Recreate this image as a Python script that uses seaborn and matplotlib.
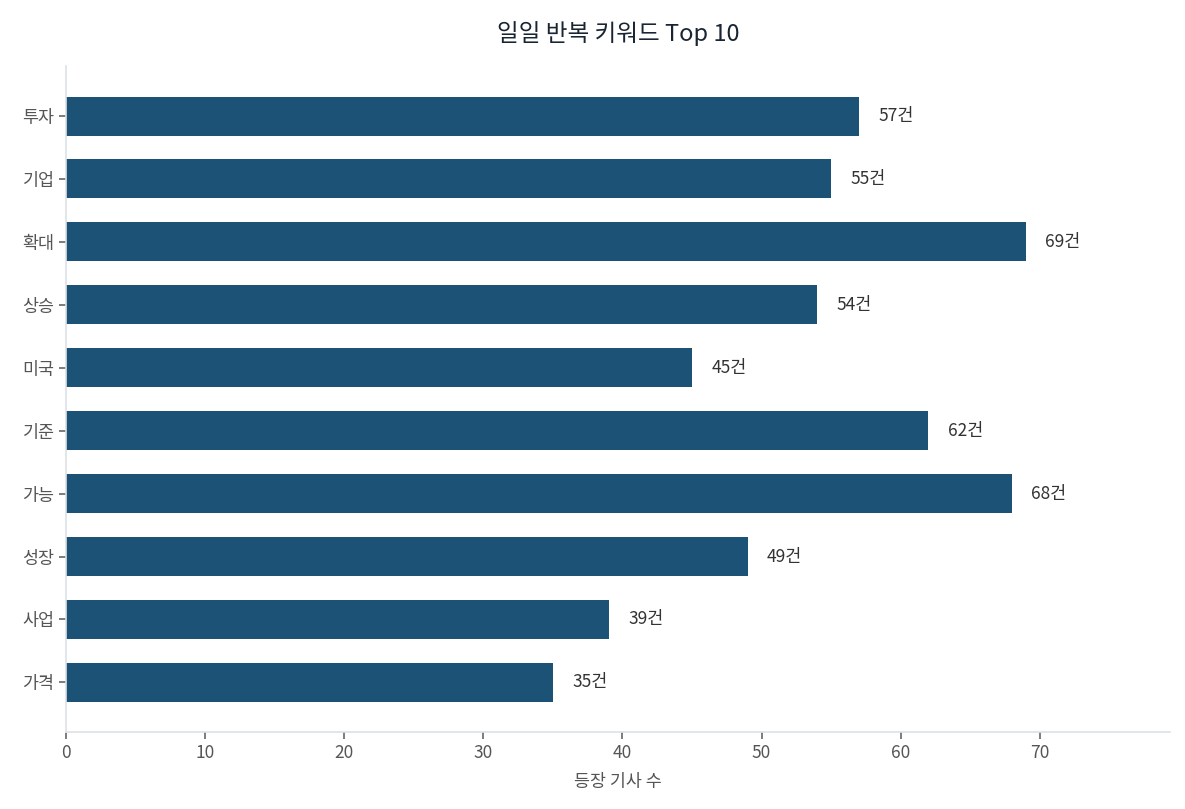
import pandas as pd
import matplotlib.pyplot as plt
import seaborn as sns

sns.set_theme(style='white')
plt.rcParams['font.family'] = ['Noto Sans CJK KR', 'DejaVu Sans']

keywords = ['투자', '기업', '확대', '상승', '미국', '기준', '가능', '성장', '사업', '가격']
counts = [57, 55, 69, 54, 45, 62, 68, 49, 39, 35]

df = pd.DataFrame({'keyword': keywords, 'count': counts})

fig, ax = plt.subplots(figsize=(11.85, 8.09), dpi=100)
sns.barplot(data=df, x='count', y='keyword', orient='h', color='#1b5276',
            saturation=1, width=0.62, linewidth=0, ax=ax)

ax.bar_label(ax.containers[0], labels=[f'{v}건' for v in counts],
             padding=14, fontsize=12.5, color='#333333')

ax.set_xlim(0, max(counts) * 1.15)
ax.set_ylim(len(keywords) - 1 + 0.79, -0.79)
ax.set_title('일일 반복 키워드 Top 10', fontsize=17, color='#1a2533', pad=18)
ax.set_xlabel('등장 기사 수', fontsize=12.5, color='#555555', labelpad=8)
ax.set_ylabel('')

sns.despine(ax=ax)
for side in ['left', 'bottom']:
    ax.spines[side].set_color('#dde1e6')
    ax.spines[side].set_linewidth(1.2)
ax.tick_params(axis='both', colors='#666666', labelsize=12.5, length=5, width=1.2,
               bottom=True, left=True)
for lbl in ax.get_xticklabels() + ax.get_yticklabels():
    lbl.set_color('#555555')

fig.subplots_adjust(left=0.056, right=0.987, top=0.918, bottom=0.095)
fig.savefig('out.png', dpi=100)
